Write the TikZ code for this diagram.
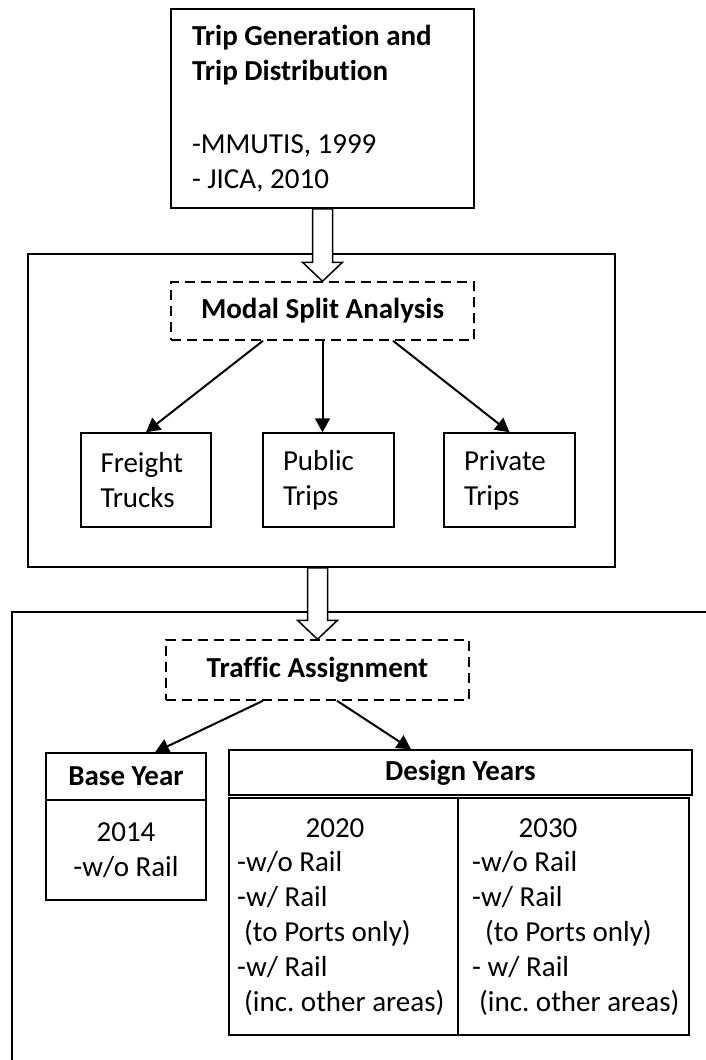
\documentclass[tikz,border=0pt]{standalone}
\usepackage{fontspec}
\setmainfont{Carlito}[Ligatures=NoCommon]
\usetikzlibrary{arrows.meta,calc,positioning}

\tikzset{
  every node/.style={font=\fontsize{29}{35}\selectfont\frenchspacing, inner sep=0pt},
  box/.style={draw, line width=1.5pt},
  dbox/.style={draw, line width=1.5pt, dash pattern=on 10pt off 6pt},
  arr/.style={line width=2pt, -{Triangle[length=14pt,width=15pt]}},
  hollow/.style={draw, fill=white, line width=1.5pt}
}

% block arrow from the bottom of one box down to the top of the next
\newcommand{\hollowarr}[2]{%
  \draw[hollow] let \p1=(#1.south), \p2=(#2.north) in
    (\x2-10pt,\y1) -- (\x2-10pt,\y2+19pt) -- (\x2-20pt,\y2+19pt) -- (\x2,\y2)
    -- (\x2+20pt,\y2+19pt) -- (\x2+10pt,\y2+19pt) -- (\x2+10pt,\y1) -- cycle;}

\begin{document}
\begin{tikzpicture}[x=1pt, y=-1pt]
    \useasboundingbox (0,0) rectangle (705,1060);

    % trip generation
    \node[box, minimum width=303pt, minimum height=199pt, text width=261pt, align=flush left] (gen) at (322.5,108.5)
        {\textbf{Trip Generation and}\\\textbf{Trip Distribution}\\[38pt]-MMUTIS, 1999\\- JICA, 2010};

    % modal split stage
    \node[box, minimum width=587pt, minimum height=313pt] (stage) at (321.5,410.5) {};
    \node[dbox, minimum width=303pt, minimum height=58pt] (modal) at (322.5,311) {\textbf{Modal Split Analysis}};
    \node[box, minimum width=130pt, minimum height=94pt, text width=91pt, align=flush left] (freight) at (146,480) {Freight\\Trucks};
    \node[box, minimum width=131pt, minimum height=94pt, text width=91pt, align=flush left] (public) at (328.5,480) {Public\\Trips};
    \node[box, minimum width=131pt, minimum height=94pt, text width=91pt, align=flush left] (private) at (509.5,480) {Private\\Trips};

    \draw[arr] ([xshift=-59.5pt]modal.south) -- (freight.north);
    \draw[arr] (modal.south) -- (modal.south |- public.north);
    \draw[arr] ([xshift=70.5pt]modal.south) -- (private.north);

    % traffic assignment stage (runs off the page)
    \draw[line width=1.5pt] (710,612) -- (12,612) -- (12,1065);
    \node[dbox, minimum width=303pt, minimum height=60pt] (traffic) at (317.5,670) {\textbf{Traffic Assignment}};

    \node[box, minimum width=160pt, minimum height=47pt] (base) at (126,776.5) {\textbf{Base Year}};
    \node[box, minimum width=160pt, minimum height=100pt, align=center] (b2014) at (126,850) {2014\\-w/o Rail};

    \node[box, minimum width=463pt, minimum height=45pt] (design) at (460.5,772.5) {\textbf{Design Years}};
    \node[box, minimum width=229pt, minimum height=237pt] (d2020) at (343.5,916.5) {};
    \node[box, minimum width=231pt, minimum height=237pt] (d2030) at (573.5,916.5) {};
    \node[anchor=base] (y2020) at (335,837) {2020};
    \node[anchor=base] (y2030) at (548,837) {2030};
    \node[anchor=north west, align=flush left] (l2020) at (237,851)
        {-w/o Rail\\-w/ Rail\\\hspace*{7pt}(to Ports only)\\-w/ Rail\\\hspace*{7pt}(inc. other areas)};
    \node[anchor=north west, align=flush left] (l2030) at (472,851)
        {-w/o Rail\\-w/ Rail\\\hspace*{13pt}(to Ports only)\\- w/ Rail\\\hspace*{7pt}(inc. other areas)};

    \draw[arr] ([xshift=-54.5pt]traffic.south) -- ([xshift=29pt]base.north);
    \draw[arr] ([xshift=19.5pt]traffic.south) -- ([xshift=-49.5pt]design.north);

    % block arrows between the stages
    \hollowarr{gen}{modal}
    \hollowarr{stage}{traffic}
\end{tikzpicture}
\end{document}
